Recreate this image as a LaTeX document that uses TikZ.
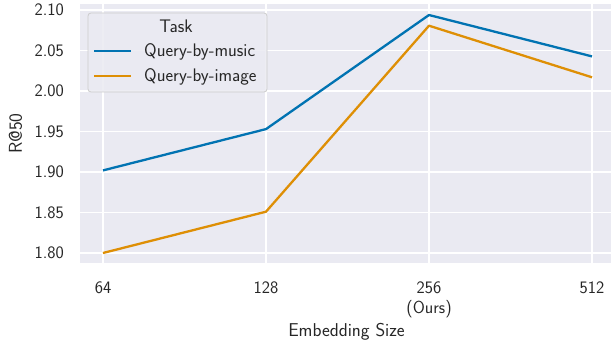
\documentclass[tikz,border=0pt]{standalone}
\usepackage{fontspec}
\definecolor{panel}{HTML}{EAEAF2}
\definecolor{txt}{HTML}{262626}
\definecolor{cblue}{HTML}{0173B2}
\definecolor{corange}{HTML}{DE8F05}
\definecolor{legedge}{HTML}{CCCCCC}
\tikzset{
  gridline/.style={white, line width=1.7pt},
  series/.style={line width=2.3pt, line join=round},
  ticklab/.style={text=txt, inner sep=0pt, font=\sffamily\fontsize{17.5}{20}\selectfont},
  leglab/.style={text=txt, inner sep=0pt, font=\sffamily\fontsize{18.2}{21}\selectfont},
  lab/.style={text=txt, inner sep=0pt, font=\sffamily\fontsize{18.6}{22}\selectfont},
}
\begin{document}
\begin{tikzpicture}[x=1pt, y=-1pt]
\useasboundingbox (0,0) rectangle (611,345);
% plotting panel
\fill[panel] (80,4) rectangle (611,263);
% vertical grid lines and x tick labels
\foreach \xx/\lbl in {103/64, 266/128, 429/256, 592/512} {
  \draw[gridline] (\xx,4) -- (\xx,263);
  \node[ticklab, anchor=base] at (\xx,293) {\lbl};
}
\node[ticklab, anchor=base] (ours) at (429,313) {(Ours)};
% horizontal grid lines and y tick labels
\foreach \yy/\lbl in {10/2.10, 50.5/2.05, 91/2.00, 131.5/1.95, 172/1.90, 212.5/1.85, 253/1.80} {
  \draw[gridline] (80,\yy) -- (611,\yy);
  \node[ticklab, anchor=east] at (64,\yy) {\lbl};
}
% axis titles
\node[lab, anchor=base] (xlab) at (346.5,336.5) {Embedding Size};
\node[lab, rotate=90, anchor=center] (ylab) at (15.5,133.5) {R@50};
% data points (x: 64,128,256,512 at equal spacing)
\coordinate (m1) at (103,170.4);
\coordinate (m2) at (266,129.1);
\coordinate (m3) at (429,15.0);
\coordinate (m4) at (592,56.4);
\coordinate (i1) at (103,253.0);
\coordinate (i2) at (266,211.7);
\coordinate (i3) at (429,25.7);
\coordinate (i4) at (592,77.3);
\draw[series, cblue] (m1) -- (m2) -- (m3) -- (m4);
\draw[series, corange] (i1) -- (i2) -- (i3) -- (i4);
% legend
\draw[legedge, fill=panel, fill opacity=0.85, rounded corners=3pt, line width=0.8pt]
  (88,13) rectangle (267,92);
\node[leglab, anchor=base] (legtitle) at (176,32.7) {Task};
\coordinate (lb1) at (94,51.3);
\coordinate (lb2) at (131,51.3);
\coordinate (lo1) at (94,76);
\coordinate (lo2) at (131,76);
\draw[series, cblue] (lb1) -- (lb2);
\draw[series, corange] (lo1) -- (lo2);
\node[leglab, anchor=base west] (legmusic) at (144,57) {Query-by-music};
\node[leglab, anchor=base west] (legimage) at (144,81.5) {Query-by-image};
\end{tikzpicture}
\end{document}
